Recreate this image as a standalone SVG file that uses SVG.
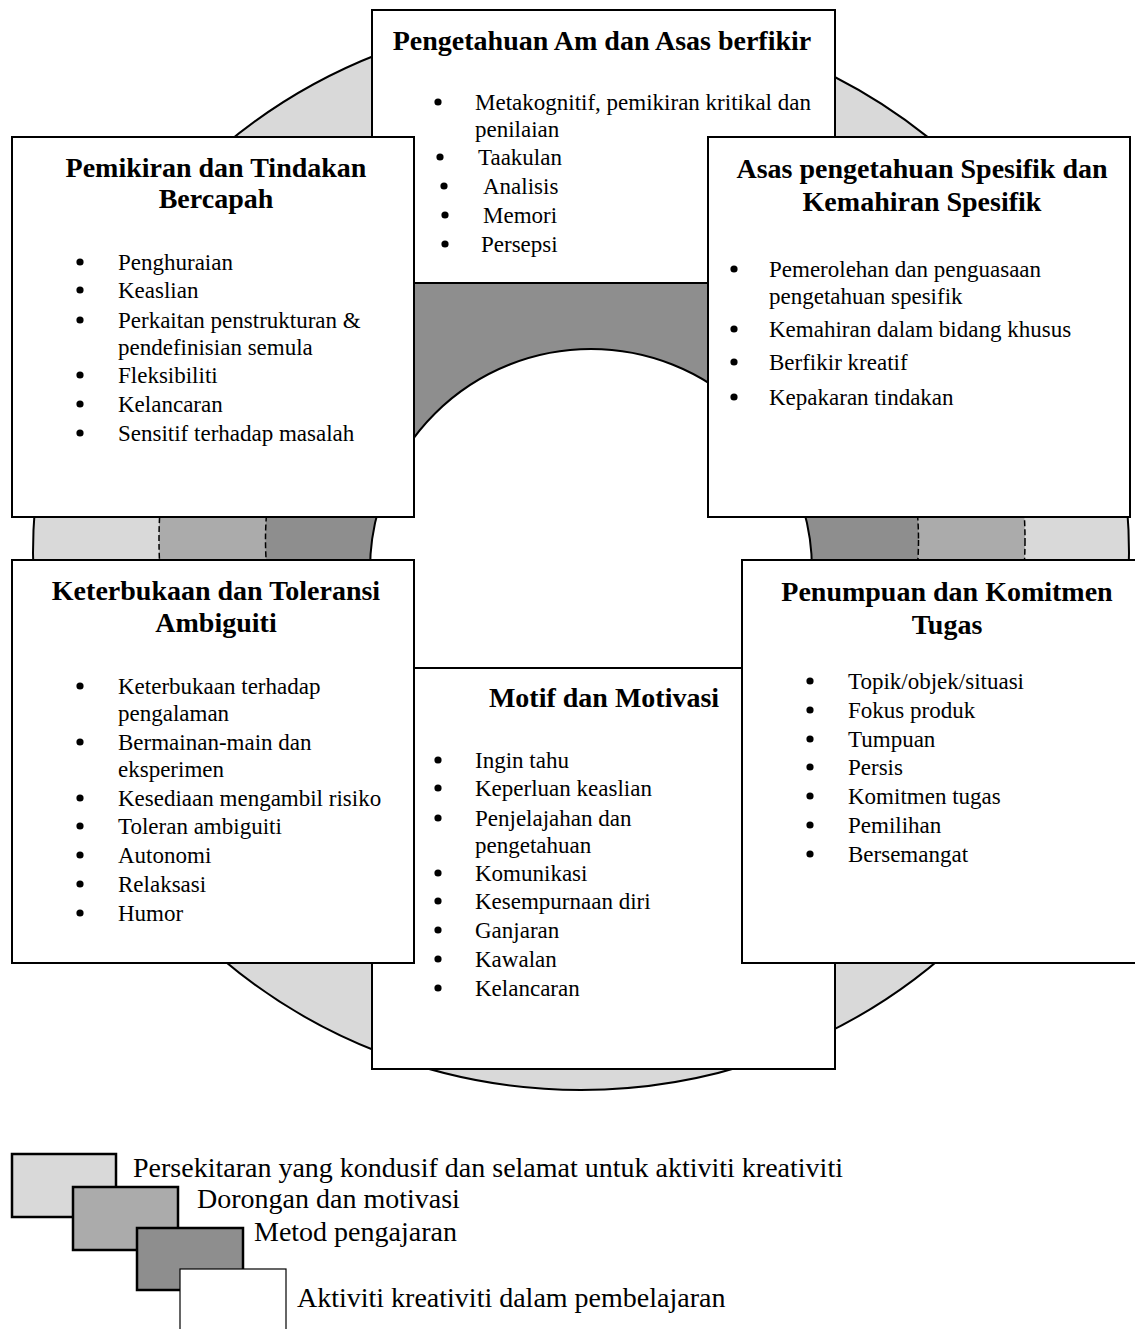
<svg xmlns="http://www.w3.org/2000/svg" width="1135" height="1329" viewBox="0 0 1135 1329">
<style>
.box{fill:#fff;stroke:#000;stroke-width:2}
.t{font-family:"Liberation Serif","Times New Roman",serif;font-size:28px;font-weight:bold;fill:#000;text-anchor:middle}
.b{font-family:"Liberation Serif","Times New Roman",serif;font-size:23px;fill:#000}
.lg{font-family:"Liberation Serif","Times New Roman",serif;font-size:28px;fill:#000}
.dot{fill:#000}
.light{fill:#d9d9d9}
.med{fill:#ababab}
.dark{fill:#8e8e8e}
</style>
<defs>
<circle id="bul" r="3.6" class="dot"/>
</defs>
<rect width="1135" height="1329" fill="#fff"/>
<g id="ring">
<ellipse cx="581" cy="553" rx="548" ry="537" class="light" stroke="#000" stroke-width="2"/>
<circle cx="592" cy="540" r="433" class="med" stroke="#000" stroke-width="1.5" stroke-dasharray="6 3"/>
<circle cx="592" cy="540" r="326.5" class="dark" stroke="#000" stroke-width="1.5" stroke-dasharray="6 3"/>
<circle cx="591" cy="570" r="221" fill="#fff" stroke="#000" stroke-width="2"/>
</g>
<g id="connectors"></g>
<g id="node-motif">
<rect x="372" y="668" width="463" height="401" class="box"/>
<text x="604" y="707" class="t">Motif dan Motivasi</text>
<use href="#bul" x="438" y="760"/><text x="475" y="768" class="b">Ingin tahu</text>
<use href="#bul" x="438" y="788"/><text x="475" y="796" class="b">Keperluan keaslian</text>
<use href="#bul" x="438" y="818"/><text x="475" y="826" class="b">Penjelajahan dan</text>
<text x="475" y="853" class="b">pengetahuan</text>
<use href="#bul" x="438" y="873"/><text x="475" y="881" class="b">Komunikasi</text>
<use href="#bul" x="438" y="901"/><text x="475" y="909" class="b">Kesempurnaan diri</text>
<use href="#bul" x="438" y="930"/><text x="475" y="938" class="b">Ganjaran</text>
<use href="#bul" x="438" y="959"/><text x="475" y="967" class="b">Kawalan</text>
<use href="#bul" x="438" y="988"/><text x="475" y="996" class="b">Kelancaran</text>
</g>
<g id="node-pengetahuan-am">
<rect x="372" y="10" width="463" height="273" class="box"/>
<text x="602" y="50" class="t">Pengetahuan Am dan Asas berfikir</text>
<use href="#bul" x="438" y="102"/><text x="475" y="110" class="b">Metakognitif, pemikiran kritikal dan</text>
<text x="475" y="137" class="b">penilaian</text>
<use href="#bul" x="440" y="157"/><text x="478" y="165" class="b">Taakulan</text>
<use href="#bul" x="444" y="186"/><text x="483" y="194" class="b">Analisis</text>
<use href="#bul" x="445" y="215"/><text x="483" y="223" class="b">Memori</text>
<use href="#bul" x="445" y="244"/><text x="481" y="252" class="b">Persepsi</text>
</g>
<g id="node-pemikiran">
<rect x="12" y="137" width="402" height="380" class="box"/>
<text x="216" y="177" class="t">Pemikiran dan Tindakan</text>
<text x="216" y="208" class="t">Bercapah</text>
<use href="#bul" x="80" y="262"/><text x="118" y="270" class="b">Penghuraian</text>
<use href="#bul" x="80" y="290"/><text x="118" y="298" class="b">Keaslian</text>
<use href="#bul" x="80" y="320"/><text x="118" y="328" class="b">Perkaitan penstrukturan &amp;</text>
<text x="118" y="355" class="b">pendefinisian semula</text>
<use href="#bul" x="80" y="375"/><text x="118" y="383" class="b">Fleksibiliti</text>
<use href="#bul" x="80" y="404"/><text x="118" y="412" class="b">Kelancaran</text>
<use href="#bul" x="80" y="433"/><text x="118" y="441" class="b">Sensitif terhadap masalah</text>
</g>
<g id="node-asas-spesifik">
<rect x="708" y="137" width="422" height="380" class="box"/>
<text x="922" y="178" class="t">Asas pengetahuan Spesifik dan</text>
<text x="922" y="211" class="t">Kemahiran Spesifik</text>
<use href="#bul" x="734" y="269"/><text x="769" y="277" class="b">Pemerolehan dan penguasaan</text>
<text x="769" y="304" class="b">pengetahuan spesifik</text>
<use href="#bul" x="734" y="329"/><text x="769" y="337" class="b">Kemahiran dalam bidang khusus</text>
<use href="#bul" x="734" y="362"/><text x="769" y="370" class="b">Berfikir kreatif</text>
<use href="#bul" x="734" y="397"/><text x="769" y="405" class="b">Kepakaran tindakan</text>
</g>
<g id="node-keterbukaan">
<rect x="12" y="560" width="402" height="403" class="box"/>
<text x="216" y="600" class="t">Keterbukaan dan Toleransi</text>
<text x="216" y="632" class="t">Ambiguiti</text>
<use href="#bul" x="80" y="686"/><text x="118" y="694" class="b">Keterbukaan terhadap</text>
<text x="118" y="721" class="b">pengalaman</text>
<use href="#bul" x="80" y="742"/><text x="118" y="750" class="b">Bermainan-main dan</text>
<text x="118" y="777" class="b">eksperimen</text>
<use href="#bul" x="80" y="798"/><text x="118" y="806" class="b">Kesediaan mengambil risiko</text>
<use href="#bul" x="80" y="826"/><text x="118" y="834" class="b">Toleran ambiguiti</text>
<use href="#bul" x="80" y="855"/><text x="118" y="863" class="b">Autonomi</text>
<use href="#bul" x="80" y="884"/><text x="118" y="892" class="b">Relaksasi</text>
<use href="#bul" x="80" y="913"/><text x="118" y="921" class="b">Humor</text>
</g>
<g id="node-penumpuan">
<rect x="742" y="560" width="400" height="403" class="box"/>
<text x="947" y="601" class="t">Penumpuan dan Komitmen</text>
<text x="947" y="634" class="t">Tugas</text>
<use href="#bul" x="810" y="681"/><text x="848" y="689" class="b">Topik/objek/situasi</text>
<use href="#bul" x="810" y="710"/><text x="848" y="718" class="b">Fokus produk</text>
<use href="#bul" x="810" y="739"/><text x="848" y="747" class="b">Tumpuan</text>
<use href="#bul" x="810" y="767"/><text x="848" y="775" class="b">Persis</text>
<use href="#bul" x="810" y="796"/><text x="848" y="804" class="b">Komitmen tugas</text>
<use href="#bul" x="810" y="825"/><text x="848" y="833" class="b">Pemilihan</text>
<use href="#bul" x="810" y="854"/><text x="848" y="862" class="b">Bersemangat</text>
</g>
<g id="legend">
<rect x="12" y="1154" width="104" height="63" class="light" stroke="#000" stroke-width="2.5"/>
<rect x="73" y="1187" width="105" height="63" class="med" stroke="#000" stroke-width="2.5"/>
<rect x="137" y="1228" width="106" height="62" class="dark" stroke="#000" stroke-width="2.5"/>
<rect x="180" y="1269" width="106" height="80" fill="#fff" stroke="#000" stroke-width="1.2"/>
<text x="133" y="1177" class="lg">Persekitaran yang kondusif dan selamat untuk aktiviti kreativiti</text>
<text x="197" y="1208" class="lg">Dorongan dan motivasi</text>
<text x="254" y="1241" class="lg">Metod pengajaran</text>
<text x="297" y="1307" class="lg">Aktiviti kreativiti dalam pembelajaran</text>
</g>
</svg>
